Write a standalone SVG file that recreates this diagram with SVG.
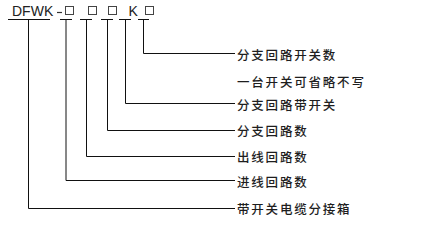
<svg xmlns="http://www.w3.org/2000/svg" width="432" height="230" viewBox="0 0 432 230">
<style>
.code{font-family:"Liberation Sans",Arial,sans-serif;font-size:14px;fill:#222}
.lbl{font-family:"Noto Sans CJK SC","Noto Sans",sans-serif;font-size:12.5px;font-weight:500;letter-spacing:1.8px;fill:#1e1e1e;dominant-baseline:central}
.box{fill:none;stroke:#444;stroke-width:1}
.ln{fill:none;stroke:#111;stroke-width:1}
</style>
<rect width="432" height="230" fill="#fff"/>
<g id="code">
<g id="c-dfwk"><text class="code" x="12" y="15.5">DFWK</text></g>
<g id="c-dash"><line x1="57" y1="12.5" x2="62" y2="12.5" stroke="#333" stroke-width="1.2"/></g>
<g id="c-box1"><rect class="box" x="65.5" y="6.5" width="8" height="8"/></g>
<g id="c-box2"><rect class="box" x="88.5" y="6.5" width="8" height="8"/></g>
<g id="c-box3"><rect class="box" x="108.5" y="6.5" width="8" height="8"/></g>
<g id="c-k"><text class="code" x="128.5" y="15.5">K</text></g>
<g id="c-box4"><rect class="box" x="145.5" y="6.5" width="8" height="8"/></g>
</g>
<g id="connectors">
<line class="ln" x1="8" y1="19.5" x2="50" y2="19.5"/>
<line class="ln" x1="60" y1="19.5" x2="72" y2="19.5"/>
<line class="ln" x1="80" y1="19.5" x2="92" y2="19.5"/>
<line class="ln" x1="101" y1="19.5" x2="113" y2="19.5"/>
<line class="ln" x1="119" y1="19.5" x2="131" y2="19.5"/>
<line class="ln" x1="138" y1="19.5" x2="149" y2="19.5"/>
<polyline class="ln" points="143.5,19.5 143.5,53.5 235,53.5"/>
<polyline class="ln" points="125.5,19.5 125.5,103.5 235,103.5"/>
<polyline class="ln" points="107.5,19.5 107.5,130.5 235,130.5"/>
<polyline class="ln" points="86.5,19.5 86.5,156.5 235,156.5"/>
<polyline class="ln" points="66,19.5 66,180.5 235,180.5"/>
<polyline class="ln" points="28.5,19.5 28.5,208.5 235,208.5"/>
</g>
<g id="l1"><text class="lbl" x="237" y="54">分支回路开关数</text></g>
<g id="l2"><text class="lbl" x="237" y="81">一台开关可省略不写</text></g>
<g id="l3"><text class="lbl" x="237" y="104">分支回路带开关</text></g>
<g id="l4"><text class="lbl" x="237" y="130">分支回路数</text></g>
<g id="l5"><text class="lbl" x="237" y="156">出线回路数</text></g>
<g id="l6"><text class="lbl" x="237" y="181">进线回路数</text></g>
<g id="l7"><text class="lbl" x="237" y="208">带开关电缆分接箱</text></g>
</svg>
